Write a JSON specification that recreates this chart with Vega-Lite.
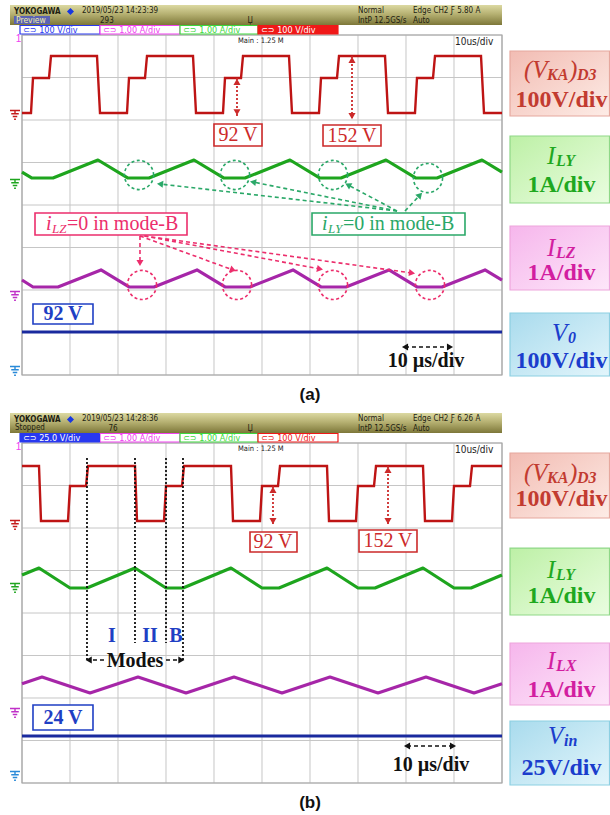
{
"$schema":"https://vega.github.io/schema/vega-lite/v6.json",
"padding":0,
"autosize":{"type":"pad"},
"spacing":0,
"config":{"view":{"stroke":null},"axis":{"disable":true},"legend":{"disable":true}},
"data":{"values":[
{"k":"hdr","p":"a","x":-2.5,"x2":100,"y":8.235,"y2":8.706},
{"k":"hdr","p":"b","x":-2.5,"x2":100,"y":8.235,"y2":8.706},
{"k":"pv","p":"a","x":-1.667,"x2":5.833,"y":8.259,"y2":8.447},
{"k":"pvt","p":"a","x":-1.25,"y":8.353,"t":"Preview"},
{"k":"hb","p":"a","x":-1.667,"y":8.553,"t":"YOKOGAWA"},
{"k":"hb","p":"b","x":-1.667,"y":8.553,"t":"YOKOGAWA"},
{"k":"dia","p":"a","x":10.1,"y":8.553},
{"k":"dia","p":"b","x":10.1,"y":8.553},
{"k":"ht","p":"a","x":12.5,"y":8.565,"t":"2019/05/23 14:23:39"},
{"k":"ht","p":"a","x":16.25,"y":8.329,"t":"293"},
{"k":"ht","p":"a","x":47,"y":8.329,"t":"Џ"},
{"k":"ht","p":"a","x":70,"y":8.565,"t":"Normal"},
{"k":"ht","p":"a","x":70,"y":8.329,"t":"IntP 12.5GS/s"},
{"k":"ht","p":"a","x":81.46,"y":8.565,"t":"Edge CH2 Ƒ 5.80 A"},
{"k":"ht","p":"a","x":81.46,"y":8.329,"t":"Auto"},
{"k":"ht","p":"b","x":-1.458,"y":8.353,"t":"Stopped"},
{"k":"ht","p":"b","x":12.5,"y":8.565,"t":"2019/05/23 14:28:36"},
{"k":"ht","p":"b","x":18.0,"y":8.329,"t":"76"},
{"k":"ht","p":"b","x":47,"y":8.329,"t":"Џ"},
{"k":"ht","p":"b","x":70,"y":8.565,"t":"Normal"},
{"k":"ht","p":"b","x":70,"y":8.329,"t":"IntP 12.5GS/s"},
{"k":"ht","p":"b","x":81.46,"y":8.565,"t":"Edge CH2 Ƒ 6.26 A"},
{"k":"ht","p":"b","x":81.46,"y":8.329,"t":"Auto"},
{"k":"tag","p":"a","x":-0.417,"x2":16.25,"c":"tb","s":0,"t":"⊂⊃ 100 V/div"},
{"k":"tag","p":"a","x":16.25,"x2":32.92,"c":"tm","s":0,"t":"⊂⊃ 1.00 A/div"},
{"k":"tag","p":"a","x":32.92,"x2":49.17,"c":"tg","s":0,"t":"⊂⊃ 1.00 A/div"},
{"k":"tag","p":"a","x":49.17,"x2":65.83,"c":"tr","s":1,"t":"⊂⊃ 100 V/div"},
{"k":"tag","p":"b","x":-0.417,"x2":16.25,"c":"tb","s":1,"t":"⊂⊃ 25.0 V/div"},
{"k":"tag","p":"b","x":16.25,"x2":32.92,"c":"tm","s":0,"t":"⊂⊃ 1.00 A/div"},
{"k":"tag","p":"b","x":32.92,"x2":49.17,"c":"tg","s":0,"t":"⊂⊃ 1.00 A/div"},
{"k":"tag","p":"b","x":49.17,"x2":65.83,"c":"tr","s":0,"t":"⊂⊃ 100 V/div"},
{"k":"sm","p":"a","x":45,"y":7.86,"t":"Main : 1.25 M"},
{"k":"sm","p":"b","x":45,"y":7.86,"t":"Main : 1.25 M"},
{"k":"sm2","p":"a","x":90.2,"y":7.84,"t":"10us/div"},
{"k":"sm2","p":"b","x":90.2,"y":7.84,"t":"10us/div"},
{"k":"one","p":"a","x":-1.3,"y":7.9,"t":"1"},
{"k":"one","p":"b","x":-1.3,"y":7.9,"t":"1"},
{"k":"gv","p":"a","x":0},{"k":"gv","p":"a","x":10},{"k":"gv","p":"a","x":20},{"k":"gv","p":"a","x":30},{"k":"gv","p":"a","x":40},{"k":"gv","p":"a","x":50},{"k":"gv","p":"a","x":60},{"k":"gv","p":"a","x":70},{"k":"gv","p":"a","x":80},{"k":"gv","p":"a","x":90},{"k":"gv","p":"a","x":100},
{"k":"gv","p":"b","x":0},{"k":"gv","p":"b","x":10},{"k":"gv","p":"b","x":20},{"k":"gv","p":"b","x":30},{"k":"gv","p":"b","x":40},{"k":"gv","p":"b","x":50},{"k":"gv","p":"b","x":60},{"k":"gv","p":"b","x":70},{"k":"gv","p":"b","x":80},{"k":"gv","p":"b","x":90},{"k":"gv","p":"b","x":100},
{"k":"gh","p":"a","y":0},{"k":"gh","p":"a","y":1},{"k":"gh","p":"a","y":2},{"k":"gh","p":"a","y":3},{"k":"gh","p":"a","y":4},{"k":"gh","p":"a","y":5},{"k":"gh","p":"a","y":6},{"k":"gh","p":"a","y":7},{"k":"gh","p":"a","y":8},
{"k":"gh","p":"b","y":0},{"k":"gh","p":"b","y":1},{"k":"gh","p":"b","y":2},{"k":"gh","p":"b","y":3},{"k":"gh","p":"b","y":4},{"k":"gh","p":"b","y":5},{"k":"gh","p":"b","y":6},{"k":"gh","p":"b","y":7},{"k":"gh","p":"b","y":8},
{"k":"gnd","p":"a","c":"r","x":-1.458,"y":6.118},
{"k":"gnd","p":"a","c":"g","x":-1.458,"y":4.494},
{"k":"gnd","p":"a","c":"mg","x":-1.458,"y":1.859},
{"k":"gnd","p":"a","c":"bg","x":-1.458,"y":0.094},
{"k":"gnd","p":"b","c":"r","x":-1.458,"y":6.071},
{"k":"gnd","p":"b","c":"g","x":-1.458,"y":4.588},
{"k":"gnd","p":"b","c":"mg","x":-1.458,"y":1.647},
{"k":"gnd","p":"b","c":"bg","x":-1.458,"y":0.165},
{"k":"tr","p":"a","c":"r","x":0,"y":6.165},{"k":"tr","p":"a","c":"r","x":1.875,"y":6.165},{"k":"tr","p":"a","c":"r","x":2.292,"y":6.988},{"k":"tr","p":"a","c":"r","x":5.625,"y":6.988},{"k":"tr","p":"a","c":"r","x":6.042,"y":7.506},{"k":"tr","p":"a","c":"r","x":15.625,"y":7.506},{"k":"tr","p":"a","c":"r","x":16.25,"y":6.165},
{"k":"tr","p":"a","c":"r","x":21.875,"y":6.165},{"k":"tr","p":"a","c":"r","x":22.292,"y":6.988},{"k":"tr","p":"a","c":"r","x":25.625,"y":6.988},{"k":"tr","p":"a","c":"r","x":26.042,"y":7.506},{"k":"tr","p":"a","c":"r","x":35.625,"y":7.506},{"k":"tr","p":"a","c":"r","x":36.25,"y":6.165},
{"k":"tr","p":"a","c":"r","x":41.875,"y":6.165},{"k":"tr","p":"a","c":"r","x":42.292,"y":6.988},{"k":"tr","p":"a","c":"r","x":45.625,"y":6.988},{"k":"tr","p":"a","c":"r","x":46.042,"y":7.506},{"k":"tr","p":"a","c":"r","x":55.625,"y":7.506},{"k":"tr","p":"a","c":"r","x":56.25,"y":6.165},
{"k":"tr","p":"a","c":"r","x":61.875,"y":6.165},{"k":"tr","p":"a","c":"r","x":62.292,"y":6.988},{"k":"tr","p":"a","c":"r","x":65.625,"y":6.988},{"k":"tr","p":"a","c":"r","x":66.042,"y":7.506},{"k":"tr","p":"a","c":"r","x":75.625,"y":7.506},{"k":"tr","p":"a","c":"r","x":76.25,"y":6.165},
{"k":"tr","p":"a","c":"r","x":81.875,"y":6.165},{"k":"tr","p":"a","c":"r","x":82.292,"y":6.988},{"k":"tr","p":"a","c":"r","x":85.625,"y":6.988},{"k":"tr","p":"a","c":"r","x":86.042,"y":7.506},{"k":"tr","p":"a","c":"r","x":95.625,"y":7.506},{"k":"tr","p":"a","c":"r","x":96.25,"y":6.165},{"k":"tr","p":"a","c":"r","x":100,"y":6.165},
{"k":"tr","p":"a","c":"g","x":0,"y":4.776},{"k":"tr","p":"a","c":"g","x":2.083,"y":4.635},{"k":"tr","p":"a","c":"g","x":6.458,"y":4.635},{"k":"tr","p":"a","c":"g","x":15.833,"y":5.059},{"k":"tr","p":"a","c":"g","x":22.083,"y":4.635},{"k":"tr","p":"a","c":"g","x":26.458,"y":4.635},{"k":"tr","p":"a","c":"g","x":35.833,"y":5.059},{"k":"tr","p":"a","c":"g","x":42.083,"y":4.635},{"k":"tr","p":"a","c":"g","x":46.458,"y":4.635},{"k":"tr","p":"a","c":"g","x":55.833,"y":5.059},{"k":"tr","p":"a","c":"g","x":62.083,"y":4.635},{"k":"tr","p":"a","c":"g","x":66.458,"y":4.635},{"k":"tr","p":"a","c":"g","x":75.833,"y":5.059},{"k":"tr","p":"a","c":"g","x":82.083,"y":4.635},{"k":"tr","p":"a","c":"g","x":86.458,"y":4.635},{"k":"tr","p":"a","c":"g","x":95.833,"y":5.059},{"k":"tr","p":"a","c":"g","x":100,"y":4.776},
{"k":"tr","p":"a","c":"m","x":0,"y":2.235},{"k":"tr","p":"a","c":"m","x":2.292,"y":2.071},{"k":"tr","p":"a","c":"m","x":7.5,"y":2.071},{"k":"tr","p":"a","c":"m","x":16.458,"y":2.471},{"k":"tr","p":"a","c":"m","x":22.292,"y":2.071},{"k":"tr","p":"a","c":"m","x":27.5,"y":2.071},{"k":"tr","p":"a","c":"m","x":36.458,"y":2.471},{"k":"tr","p":"a","c":"m","x":42.292,"y":2.071},{"k":"tr","p":"a","c":"m","x":47.5,"y":2.071},{"k":"tr","p":"a","c":"m","x":56.458,"y":2.471},{"k":"tr","p":"a","c":"m","x":62.292,"y":2.071},{"k":"tr","p":"a","c":"m","x":67.5,"y":2.071},{"k":"tr","p":"a","c":"m","x":76.458,"y":2.471},{"k":"tr","p":"a","c":"m","x":82.292,"y":2.071},{"k":"tr","p":"a","c":"m","x":87.5,"y":2.071},{"k":"tr","p":"a","c":"m","x":96.458,"y":2.471},{"k":"tr","p":"a","c":"m","x":100,"y":2.235},
{"k":"tr","p":"a","c":"b","x":0,"y":1.012},{"k":"tr","p":"a","c":"b","x":100,"y":1.012},
{"k":"tr","p":"b","c":"r","x":0,"y":7.459},{"k":"tr","p":"b","c":"r","x":3.542,"y":7.459},{"k":"tr","p":"b","c":"r","x":3.958,"y":6.165},{"k":"tr","p":"b","c":"r","x":9.583,"y":6.165},{"k":"tr","p":"b","c":"r","x":10.0,"y":6.988},{"k":"tr","p":"b","c":"r","x":13.333,"y":6.988},{"k":"tr","p":"b","c":"r","x":13.75,"y":7.459},
{"k":"tr","p":"b","c":"r","x":23.542,"y":7.459},{"k":"tr","p":"b","c":"r","x":23.958,"y":6.165},{"k":"tr","p":"b","c":"r","x":29.583,"y":6.165},{"k":"tr","p":"b","c":"r","x":30.0,"y":6.988},{"k":"tr","p":"b","c":"r","x":33.333,"y":6.988},{"k":"tr","p":"b","c":"r","x":33.75,"y":7.459},
{"k":"tr","p":"b","c":"r","x":43.542,"y":7.459},{"k":"tr","p":"b","c":"r","x":43.958,"y":6.165},{"k":"tr","p":"b","c":"r","x":49.583,"y":6.165},{"k":"tr","p":"b","c":"r","x":50.0,"y":6.988},{"k":"tr","p":"b","c":"r","x":53.333,"y":6.988},{"k":"tr","p":"b","c":"r","x":53.75,"y":7.459},
{"k":"tr","p":"b","c":"r","x":63.542,"y":7.459},{"k":"tr","p":"b","c":"r","x":63.958,"y":6.165},{"k":"tr","p":"b","c":"r","x":69.583,"y":6.165},{"k":"tr","p":"b","c":"r","x":70.0,"y":6.988},{"k":"tr","p":"b","c":"r","x":73.333,"y":6.988},{"k":"tr","p":"b","c":"r","x":73.75,"y":7.459},
{"k":"tr","p":"b","c":"r","x":83.542,"y":7.459},{"k":"tr","p":"b","c":"r","x":83.958,"y":6.165},{"k":"tr","p":"b","c":"r","x":89.583,"y":6.165},{"k":"tr","p":"b","c":"r","x":90.0,"y":6.988},{"k":"tr","p":"b","c":"r","x":93.333,"y":6.988},{"k":"tr","p":"b","c":"r","x":93.75,"y":7.459},{"k":"tr","p":"b","c":"r","x":100,"y":7.459},
{"k":"tr","p":"b","c":"g","x":0,"y":4.894},{"k":"tr","p":"b","c":"g","x":3.542,"y":5.059},{"k":"tr","p":"b","c":"g","x":10,"y":4.588},{"k":"tr","p":"b","c":"g","x":13.542,"y":4.588},{"k":"tr","p":"b","c":"g","x":23.542,"y":5.059},{"k":"tr","p":"b","c":"g","x":30,"y":4.588},{"k":"tr","p":"b","c":"g","x":33.542,"y":4.588},{"k":"tr","p":"b","c":"g","x":43.542,"y":5.059},{"k":"tr","p":"b","c":"g","x":50,"y":4.588},{"k":"tr","p":"b","c":"g","x":53.542,"y":4.588},{"k":"tr","p":"b","c":"g","x":63.542,"y":5.059},{"k":"tr","p":"b","c":"g","x":70,"y":4.588},{"k":"tr","p":"b","c":"g","x":73.542,"y":4.588},{"k":"tr","p":"b","c":"g","x":83.542,"y":5.059},{"k":"tr","p":"b","c":"g","x":90,"y":4.588},{"k":"tr","p":"b","c":"g","x":93.542,"y":4.588},{"k":"tr","p":"b","c":"g","x":100,"y":4.894},
{"k":"tr","p":"b","c":"m","x":0,"y":2.336},{"k":"tr","p":"b","c":"m","x":4.167,"y":2.494},{"k":"tr","p":"b","c":"m","x":14.167,"y":2.118},{"k":"tr","p":"b","c":"m","x":24.167,"y":2.494},{"k":"tr","p":"b","c":"m","x":34.167,"y":2.118},{"k":"tr","p":"b","c":"m","x":44.167,"y":2.494},{"k":"tr","p":"b","c":"m","x":54.167,"y":2.118},{"k":"tr","p":"b","c":"m","x":64.167,"y":2.494},{"k":"tr","p":"b","c":"m","x":74.167,"y":2.118},{"k":"tr","p":"b","c":"m","x":84.167,"y":2.494},{"k":"tr","p":"b","c":"m","x":94.167,"y":2.118},{"k":"tr","p":"b","c":"m","x":100,"y":2.336},
{"k":"tr","p":"b","c":"b","x":0,"y":1.106},{"k":"tr","p":"b","c":"b","x":100,"y":1.106},
{"k":"dot","p":"a","c":"ra","x":44.79,"y":6.988,"x2":44.79,"y2":6.094},
{"k":"dot","p":"a","c":"ra","x":68.75,"y":7.506,"x2":68.75,"y2":6.0},
{"k":"dot","p":"b","c":"ra","x":52.29,"y":6.988,"x2":52.29,"y2":6.071},
{"k":"dot","p":"b","c":"ra","x":76.25,"y":7.459,"x2":76.25,"y2":6.071},
{"k":"dot","p":"b","c":"k","x":13.54,"y":7.647,"x2":13.54,"y2":2.894},
{"k":"dot","p":"b","c":"k","x":23.54,"y":7.647,"x2":23.54,"y2":3.294},
{"k":"dot","p":"b","c":"k","x":30.0,"y":7.647,"x2":30.0,"y2":3.294},
{"k":"dot","p":"b","c":"k","x":33.54,"y":7.647,"x2":33.54,"y2":2.894},
{"k":"dash","p":"a","c":"ga","x":78.125,"y":3.859,"x2":28.75,"y2":4.494},
{"k":"dash","p":"a","c":"ga","x":78.125,"y":3.859,"x2":48.125,"y2":4.541},
{"k":"dash","p":"a","c":"ga","x":78.125,"y":3.859,"x2":67.917,"y2":4.471},
{"k":"dash","p":"a","c":"ga","x":79.79,"y":3.859,"x2":82.917,"y2":4.235},
{"k":"dash","p":"a","c":"ma","x":24.58,"y":3.271,"x2":24.58,"y2":2.635},
{"k":"dash","p":"a","c":"ma","x":24.58,"y":3.271,"x2":43.96,"y2":2.471},
{"k":"dash","p":"a","c":"ma","x":25.5,"y":3.271,"x2":62.08,"y2":2.494},
{"k":"dash","p":"a","c":"ma","x":25.5,"y":3.271,"x2":81.25,"y2":2.4},
{"k":"dash","p":"a","c":"k","x":79.79,"y":0.659,"x2":89.17,"y2":0.659},
{"k":"dash","p":"b","c":"k","x":80.21,"y":0.871,"x2":89.79,"y2":0.871},
{"k":"dash","p":"b","c":"k","x":17.08,"y":2.894,"x2":13.75,"y2":2.894},
{"k":"dash","p":"b","c":"k","x":30.0,"y":2.894,"x2":33.33,"y2":2.894},
{"k":"circ","p":"a","c":"ga","x":24.375,"y":4.706},
{"k":"circ","p":"a","c":"ga","x":44.375,"y":4.706},
{"k":"circ","p":"a","c":"ga","x":64.79,"y":4.706},
{"k":"circ","p":"a","c":"ga","x":84.58,"y":4.635},
{"k":"circ","p":"a","c":"ma","x":25,"y":2.118},
{"k":"circ","p":"a","c":"ma","x":44.79,"y":2.118},
{"k":"circ","p":"a","c":"ma","x":64.79,"y":2.118},
{"k":"circ","p":"a","c":"ma","x":85,"y":2.118},
{"k":"ah","p":"a","c":"ra","x":44.79,"y":6.898,"a":270},
{"k":"ah","p":"a","c":"ra","x":44.79,"y":6.184,"a":90},
{"k":"ah","p":"a","c":"ra","x":68.75,"y":7.416,"a":270},
{"k":"ah","p":"a","c":"ra","x":68.75,"y":6.09,"a":90},
{"k":"ah","p":"b","c":"ra","x":52.29,"y":6.898,"a":270},
{"k":"ah","p":"b","c":"ra","x":52.29,"y":6.161,"a":90},
{"k":"ah","p":"b","c":"ra","x":76.25,"y":7.369,"a":270},
{"k":"ah","p":"b","c":"ra","x":76.25,"y":6.161,"a":90},
{"k":"ah","p":"a","c":"ga","x":28.75,"y":4.494,"a":186.5},
{"k":"ah","p":"a","c":"ga","x":48.125,"y":4.541,"a":191.4},
{"k":"ah","p":"a","c":"ga","x":67.917,"y":4.471,"a":208},
{"k":"ah","p":"a","c":"ga","x":82.917,"y":4.235,"a":313},
{"k":"ah","p":"a","c":"ma","x":24.58,"y":2.635,"a":90},
{"k":"ah","p":"a","c":"ma","x":43.96,"y":2.471,"a":20.1},
{"k":"ah","p":"a","c":"ma","x":62.08,"y":2.494,"a":10.4},
{"k":"ah","p":"a","c":"ma","x":81.25,"y":2.4,"a":7.7},
{"k":"ah","p":"a","c":"k","x":79.79,"y":0.659,"a":180},
{"k":"ah","p":"a","c":"k","x":89.17,"y":0.659,"a":0},
{"k":"ah","p":"b","c":"k","x":80.21,"y":0.871,"a":180},
{"k":"ah","p":"b","c":"k","x":89.79,"y":0.871,"a":0},
{"k":"ah","p":"b","c":"k","x":13.9,"y":2.894,"a":180},
{"k":"ah","p":"b","c":"k","x":33.2,"y":2.894,"a":0},
{"k":"box","p":"a","c":"ra","x":40,"x2":50,"y":5.388,"y2":5.906},
{"k":"box","p":"a","c":"ra","x":62.71,"x2":74.79,"y":5.388,"y2":5.882},
{"k":"box","p":"a","c":"ga","x":60.42,"x2":92.29,"y":3.294,"y2":3.812},
{"k":"box","p":"a","c":"ma","x":2.708,"x2":34.375,"y":3.294,"y2":3.812},
{"k":"box","p":"a","c":"ba","x":2.29,"x2":14.79,"y":1.2,"y2":1.671},
{"k":"box","p":"b","c":"ra","x":47.5,"x2":57.29,"y":5.435,"y2":5.906},
{"k":"box","p":"b","c":"ra","x":70.21,"x2":82.29,"y":5.435,"y2":5.953},
{"k":"box","p":"b","c":"ba","x":2.29,"x2":14.79,"y":1.247,"y2":1.835},
{"k":"lt","p":"a","c":"ra","x":45,"y":5.647,"t":"92 V"},
{"k":"lt","p":"a","c":"ra","x":68.75,"y":5.635,"t":"152 V"},
{"k":"lt","p":"b","c":"ra","x":52.29,"y":5.671,"t":"92 V"},
{"k":"lt","p":"b","c":"ra","x":76.25,"y":5.694,"t":"152 V"},
{"k":"lL","p":"a","c":"ga","x":66.875,"y":3.553,"t":"=0 in mode-B"},
{"k":"lL","p":"a","c":"ma","x":9.375,"y":3.553,"t":"=0 in mode-B"},
{"k":"li","p":"a","c":"ga","x":62.5,"y":3.553,"t":"i"},
{"k":"li","p":"a","c":"ma","x":5.0,"y":3.553,"t":"i"},
{"k":"ls","p":"a","c":"ga","x":63.75,"y":3.43,"t":"LY"},
{"k":"ls","p":"a","c":"ma","x":6.25,"y":3.43,"t":"LZ"},
{"k":"lb","p":"a","c":"ba","x":8.54,"y":1.435,"t":"92 V"},
{"k":"lb","p":"a","c":"k","x":84.17,"y":0.329,"t":"10 µs/div"},
{"k":"lb","p":"b","c":"ba","x":8.54,"y":1.541,"t":"24 V"},
{"k":"lb","p":"b","c":"k","x":85.21,"y":0.424,"t":"10 µs/div"},
{"k":"lb","p":"b","c":"ba","x":18.75,"y":3.459,"t":"I"},
{"k":"lb","p":"b","c":"ba","x":26.67,"y":3.459,"t":"II"},
{"k":"lb","p":"b","c":"ba","x":32.08,"y":3.459,"t":"B"},
{"k":"lb","p":"b","c":"k","x":23.54,"y":2.871,"t":"Modes"},
{"k":"rb","p":"a","c":"rl","x":101.667,"x2":122.4,"y":6.094,"y2":7.624},
{"k":"rb","p":"a","c":"gl","x":101.667,"x2":122.4,"y":4.047,"y2":5.624},
{"k":"rb","p":"a","c":"ml","x":101.667,"x2":122.4,"y":2.0,"y2":3.506},
{"k":"rb","p":"a","c":"bl","x":101.667,"x2":122.4,"y":-0.024,"y2":1.459},
{"k":"rb","p":"b","c":"rl","x":101.667,"x2":122.4,"y":6.235,"y2":7.765},
{"k":"rb","p":"b","c":"gl","x":101.667,"x2":122.4,"y":3.953,"y2":5.529},
{"k":"rb","p":"b","c":"ml","x":101.667,"x2":122.4,"y":1.835,"y2":3.294},
{"k":"rb","p":"b","c":"bl","x":101.667,"x2":122.4,"y":-0.047,"y2":1.459},
{"k":"rI","p":"a","c":"rl","x":104.58,"y":7.176,"t":"(V"},
{"k":"rS","p":"a","c":"rl","x":109.375,"y":7.066,"t":"KA"},
{"k":"rI","p":"a","c":"rl","x":113.96,"y":7.176,"t":")"},
{"k":"rS","p":"a","c":"rl","x":115.625,"y":7.066,"t":"D3"},
{"k":"rB","p":"a","c":"rl","x":112.4,"y":6.471,"t":"100V/div"},
{"k":"rI","p":"a","c":"gl","x":109.375,"y":5.153,"t":"I"},
{"k":"rS","p":"a","c":"gl","x":111.25,"y":5.043,"t":"LY"},
{"k":"rB","p":"a","c":"gl","x":112.4,"y":4.471,"t":"1A/div"},
{"k":"rI","p":"a","c":"ml","x":109.375,"y":2.988,"t":"I"},
{"k":"rS","p":"a","c":"ml","x":111.25,"y":2.878,"t":"LZ"},
{"k":"rB","p":"a","c":"ml","x":112.4,"y":2.4,"t":"1A/div"},
{"k":"rI","p":"a","c":"bl","x":110.42,"y":0.988,"t":"V"},
{"k":"rS","p":"a","c":"bl","x":113.75,"y":0.878,"t":"0"},
{"k":"rB","p":"a","c":"bl","x":112.4,"y":0.329,"t":"100V/div"},
{"k":"rI","p":"b","c":"rl","x":104.58,"y":7.294,"t":"(V"},
{"k":"rS","p":"b","c":"rl","x":109.375,"y":7.184,"t":"KA"},
{"k":"rI","p":"b","c":"rl","x":113.96,"y":7.294,"t":")"},
{"k":"rS","p":"b","c":"rl","x":115.625,"y":7.184,"t":"D3"},
{"k":"rB","p":"b","c":"rl","x":112.4,"y":6.682,"t":"100V/div"},
{"k":"rI","p":"b","c":"gl","x":109.375,"y":5.012,"t":"I"},
{"k":"rS","p":"b","c":"gl","x":111.25,"y":4.902,"t":"LY"},
{"k":"rB","p":"b","c":"gl","x":112.4,"y":4.4,"t":"1A/div"},
{"k":"rI","p":"b","c":"ml","x":109.375,"y":2.871,"t":"I"},
{"k":"rS","p":"b","c":"ml","x":111.25,"y":2.761,"t":"LX"},
{"k":"rB","p":"b","c":"ml","x":112.4,"y":2.188,"t":"1A/div"},
{"k":"rI","p":"b","c":"bl","x":109.58,"y":1.106,"t":"V"},
{"k":"rS","p":"b","c":"bl","x":112.92,"y":0.996,"t":"in"},
{"k":"rB","p":"b","c":"bl","x":112.4,"y":0.353,"t":"25V/div"},
{"k":"pl","p":"a","x":60,"y":-0.471,"t":"(a)"},
{"k":"pl","p":"b","x":60,"y":-0.471,"t":"(b)"}
]},
"facet":{"row":{"field":"p","type":"nominal","header":null}},
"spec":{
"width":610,
"height":407.5,
"layer":[
{"transform":[{"filter":"datum.k=='hdr'"}],
 "mark":{"type":"rect","fill":{"gradient":"linear","x1":0,"y1":0,"x2":0,"y2":1,"stops":[{"offset":0,"color":"#dcd9a2"},{"offset":0.45,"color":"#b6b172"},{"offset":1,"color":"#7d7739"}]}},
 "encoding":{"x":{"field":"x","type":"quantitative","scale":{"domain":[-4.583,122.5],"nice":false,"zero":false},"axis":null},"x2":{"field":"x2"},
 "y":{"field":"y","type":"quantitative","scale":{"domain":[-0.765,8.824],"nice":false,"zero":false},"axis":null},"y2":{"field":"y2"}}},
{"transform":[{"filter":"datum.k=='gv'"}],"mark":{"type":"rule","color":"#c6c6c6","strokeWidth":1},
 "encoding":{"x":{"field":"x","type":"quantitative"},"y":{"datum":0},"y2":{"datum":8}}},
{"transform":[{"filter":"datum.k=='gh'"}],"mark":{"type":"rule","color":"#c6c6c6","strokeWidth":1},
 "encoding":{"y":{"field":"y","type":"quantitative"},"x":{"datum":0},"x2":{"datum":100}}},
{"transform":[{"filter":"datum.k=='hdr'"}],"mark":{"type":"rect","filled":false,"color":"#a6a6a6","strokeWidth":1.2},
 "encoding":{"x":{"datum":0},"x2":{"datum":100},"y":{"datum":0},"y2":{"datum":8}}},
{"transform":[{"filter":"datum.k=='pv'"}],"mark":{"type":"rect","color":"#5a62b4"},
 "encoding":{"x":{"field":"x","type":"quantitative"},"x2":{"field":"x2"},"y":{"field":"y","type":"quantitative"},"y2":{"field":"y2"}}},
{"transform":[{"filter":"datum.k=='tag'"}],"mark":{"type":"rect","fill":"white","strokeWidth":1.2},
 "encoding":{"x":{"field":"x","type":"quantitative"},"x2":{"field":"x2"},"y":{"datum":8.024},"y2":{"datum":8.224},
 "stroke":{"field":"c","type":"nominal","legend":null,"scale":{"domain":["r","g","m","b","ra","ga","ma","ba","k","rl","gl","ml","bl","mg","bg","tb","tm","tg","tr"],"range":["#c41a1a","#1ea51e","#a626a8","#1a2a9e","#cc2a2a","#2aa868","#ec2e6c","#1f3fc4","#111111","#c23b30","#1fa81f","#d21ea0","#1b3dcc","#c030c8","#2a8ad8","#2838f0","#f040f0","#3cd83c","#f01818"]}}}},
{"transform":[{"filter":"datum.k=='tag' && datum.s==1"}],"mark":{"type":"rect"},
 "encoding":{"x":{"field":"x","type":"quantitative"},"x2":{"field":"x2"},"y":{"datum":8.024},"y2":{"datum":8.224},
 "color":{"field":"c","type":"nominal","legend":null,"scale":{"domain":["r","g","m","b","ra","ga","ma","ba","k","rl","gl","ml","bl","mg","bg","tb","tm","tg","tr"],"range":["#c41a1a","#1ea51e","#a626a8","#1a2a9e","#cc2a2a","#2aa868","#ec2e6c","#1f3fc4","#111111","#c23b30","#1fa81f","#d21ea0","#1b3dcc","#c030c8","#2a8ad8","#2838f0","#f040f0","#3cd83c","#f01818"]}}}},
{"transform":[{"filter":"datum.k=='tag' && datum.s==0"}],"mark":{"type":"text","align":"left","baseline":"middle","dx":3,"font":"Liberation Sans Narrow, DejaVu Sans Condensed, Liberation Sans","fontSize":9},
 "encoding":{"x":{"field":"x","type":"quantitative"},"y":{"datum":8.124},"text":{"field":"t"},
 "color":{"field":"c","type":"nominal","legend":null,"scale":{"domain":["r","g","m","b","ra","ga","ma","ba","k","rl","gl","ml","bl","mg","bg","tb","tm","tg","tr"],"range":["#c41a1a","#1ea51e","#a626a8","#1a2a9e","#cc2a2a","#2aa868","#ec2e6c","#1f3fc4","#111111","#c23b30","#1fa81f","#d21ea0","#1b3dcc","#c030c8","#2a8ad8","#2838f0","#f040f0","#3cd83c","#f01818"]}}}},
{"transform":[{"filter":"datum.k=='tag' && datum.s==1"}],"mark":{"type":"text","align":"left","baseline":"middle","dx":3,"font":"Liberation Sans Narrow, DejaVu Sans Condensed, Liberation Sans","fontSize":9,"color":"white"},
 "encoding":{"x":{"field":"x","type":"quantitative"},"y":{"datum":8.124},"text":{"field":"t"}}},
{"transform":[{"filter":"datum.k=='ht'"}],"mark":{"type":"text","align":"left","baseline":"middle","font":"Liberation Sans Narrow, DejaVu Sans Condensed, Liberation Sans","fontSize":8,"color":"#1e1e12"},
 "encoding":{"x":{"field":"x","type":"quantitative"},"y":{"field":"y","type":"quantitative"},"text":{"field":"t"}}},
{"transform":[{"filter":"datum.k=='hb'"}],"mark":{"type":"text","align":"left","baseline":"middle","font":"Liberation Sans Narrow, DejaVu Sans Condensed, Liberation Sans","fontSize":8,"fontWeight":"bold","color":"#1e1e12"},
 "encoding":{"x":{"field":"x","type":"quantitative"},"y":{"field":"y","type":"quantitative"},"text":{"field":"t"}}},
{"transform":[{"filter":"datum.k=='pvt'"}],"mark":{"type":"text","align":"left","baseline":"middle","font":"Liberation Sans Narrow, DejaVu Sans Condensed, Liberation Sans","fontSize":8.5,"color":"#f2eea8"},
 "encoding":{"x":{"field":"x","type":"quantitative"},"y":{"field":"y","type":"quantitative"},"text":{"field":"t"}}},
{"transform":[{"filter":"datum.k=='dia'"}],"mark":{"type":"point","shape":"diamond","filled":true,"size":50,"color":"#1838e0","opacity":1},
 "encoding":{"x":{"field":"x","type":"quantitative"},"y":{"field":"y","type":"quantitative"}}},
{"transform":[{"filter":"datum.k=='one'"}],"mark":{"type":"text","align":"left","baseline":"middle","font":"Liberation Sans","fontSize":10,"color":"#f040f0"},
 "encoding":{"x":{"field":"x","type":"quantitative"},"y":{"field":"y","type":"quantitative"},"text":{"field":"t"}}},
{"transform":[{"filter":"datum.k=='sm'"}],"mark":{"type":"text","align":"left","baseline":"middle","font":"Liberation Sans Narrow, DejaVu Sans Condensed, Liberation Sans","fontSize":7.5,"color":"#222222"},
 "encoding":{"x":{"field":"x","type":"quantitative"},"y":{"field":"y","type":"quantitative"},"text":{"field":"t"}}},
{"transform":[{"filter":"datum.k=='sm2'"}],"mark":{"type":"text","align":"left","baseline":"middle","font":"Liberation Sans Narrow, DejaVu Sans Condensed, Liberation Sans","fontSize":10,"color":"#222222"},
 "encoding":{"x":{"field":"x","type":"quantitative"},"y":{"field":"y","type":"quantitative"},"text":{"field":"t"}}},
{"transform":[{"filter":"datum.k=='gnd'"}],"mark":{"type":"point","shape":"M-1,-0.9H1M0,-0.9V-0.25M-0.75,-0.25H0.75M-0.45,0.3H0.45M-0.18,0.85H0.18","filled":false,"size":100,"strokeWidth":1.4,"opacity":1},
 "encoding":{"x":{"field":"x","type":"quantitative"},"y":{"field":"y","type":"quantitative"},
 "color":{"field":"c","type":"nominal","legend":null,"scale":{"domain":["r","g","m","b","ra","ga","ma","ba","k","rl","gl","ml","bl","mg","bg","tb","tm","tg","tr"],"range":["#c41a1a","#1ea51e","#a626a8","#1a2a9e","#cc2a2a","#2aa868","#ec2e6c","#1f3fc4","#111111","#c23b30","#1fa81f","#d21ea0","#1b3dcc","#c030c8","#2a8ad8","#2838f0","#f040f0","#3cd83c","#f01818"]}}}},
{"transform":[{"filter":"datum.k=='tr' && datum.c!='r'"}],"mark":{"type":"line","strokeWidth":3.2,"strokeJoin":"round"},
 "encoding":{"x":{"field":"x","type":"quantitative"},"y":{"field":"y","type":"quantitative"},
 "color":{"field":"c","type":"nominal","legend":null,"scale":{"domain":["r","g","m","b","ra","ga","ma","ba","k","rl","gl","ml","bl","mg","bg","tb","tm","tg","tr"],"range":["#c41a1a","#1ea51e","#a626a8","#1a2a9e","#cc2a2a","#2aa868","#ec2e6c","#1f3fc4","#111111","#c23b30","#1fa81f","#d21ea0","#1b3dcc","#c030c8","#2a8ad8","#2838f0","#f040f0","#3cd83c","#f01818"]}}}},
{"transform":[{"filter":"datum.k=='tr' && datum.c=='r'"}],"mark":{"type":"line","strokeWidth":2.4,"color":"#be1414"},
 "encoding":{"x":{"field":"x","type":"quantitative"},"y":{"field":"y","type":"quantitative"}}},
{"transform":[{"filter":"datum.k=='dot'"}],"mark":{"type":"rule","strokeWidth":1.8,"strokeDash":[2,2]},
 "encoding":{"x":{"field":"x","type":"quantitative"},"y":{"field":"y","type":"quantitative"},"x2":{"field":"x2"},"y2":{"field":"y2"},
 "color":{"field":"c","type":"nominal","legend":null,"scale":{"domain":["r","g","m","b","ra","ga","ma","ba","k","rl","gl","ml","bl","mg","bg","tb","tm","tg","tr"],"range":["#c41a1a","#1ea51e","#a626a8","#1a2a9e","#cc2a2a","#2aa868","#ec2e6c","#1f3fc4","#111111","#c23b30","#1fa81f","#d21ea0","#1b3dcc","#c030c8","#2a8ad8","#2838f0","#f040f0","#3cd83c","#f01818"]}}}},
{"transform":[{"filter":"datum.k=='dash'"}],"mark":{"type":"rule","strokeWidth":1.6,"strokeDash":[4,3]},
 "encoding":{"x":{"field":"x","type":"quantitative"},"y":{"field":"y","type":"quantitative"},"x2":{"field":"x2"},"y2":{"field":"y2"},
 "color":{"field":"c","type":"nominal","legend":null,"scale":{"domain":["r","g","m","b","ra","ga","ma","ba","k","rl","gl","ml","bl","mg","bg","tb","tm","tg","tr"],"range":["#c41a1a","#1ea51e","#a626a8","#1a2a9e","#cc2a2a","#2aa868","#ec2e6c","#1f3fc4","#111111","#c23b30","#1fa81f","#d21ea0","#1b3dcc","#c030c8","#2a8ad8","#2838f0","#f040f0","#3cd83c","#f01818"]}}}},
{"transform":[{"filter":"datum.k=='circ'"}],"mark":{"type":"point","shape":"circle","filled":false,"size":850,"strokeWidth":1.6,"strokeDash":[3,2.5],"opacity":1},
 "encoding":{"x":{"field":"x","type":"quantitative"},"y":{"field":"y","type":"quantitative"},
 "color":{"field":"c","type":"nominal","legend":null,"scale":{"domain":["r","g","m","b","ra","ga","ma","ba","k","rl","gl","ml","bl","mg","bg","tb","tm","tg","tr"],"range":["#c41a1a","#1ea51e","#a626a8","#1a2a9e","#cc2a2a","#2aa868","#ec2e6c","#1f3fc4","#111111","#c23b30","#1fa81f","#d21ea0","#1b3dcc","#c030c8","#2a8ad8","#2838f0","#f040f0","#3cd83c","#f01818"]}}}},
{"transform":[{"filter":"datum.k=='ah'"}],"mark":{"type":"point","shape":"triangle-right","filled":true,"size":50,"opacity":1},
 "encoding":{"x":{"field":"x","type":"quantitative"},"y":{"field":"y","type":"quantitative"},"angle":{"field":"a","type":"quantitative","scale":null},
 "color":{"field":"c","type":"nominal","legend":null,"scale":{"domain":["r","g","m","b","ra","ga","ma","ba","k","rl","gl","ml","bl","mg","bg","tb","tm","tg","tr"],"range":["#c41a1a","#1ea51e","#a626a8","#1a2a9e","#cc2a2a","#2aa868","#ec2e6c","#1f3fc4","#111111","#c23b30","#1fa81f","#d21ea0","#1b3dcc","#c030c8","#2a8ad8","#2838f0","#f040f0","#3cd83c","#f01818"]}}}},
{"transform":[{"filter":"datum.k=='box'"}],"mark":{"type":"rect","fill":"white","strokeWidth":1.6},
 "encoding":{"x":{"field":"x","type":"quantitative"},"x2":{"field":"x2"},"y":{"field":"y","type":"quantitative"},"y2":{"field":"y2"},
 "stroke":{"field":"c","type":"nominal","legend":null,"scale":{"domain":["r","g","m","b","ra","ga","ma","ba","k","rl","gl","ml","bl","mg","bg","tb","tm","tg","tr"],"range":["#c41a1a","#1ea51e","#a626a8","#1a2a9e","#cc2a2a","#2aa868","#ec2e6c","#1f3fc4","#111111","#c23b30","#1fa81f","#d21ea0","#1b3dcc","#c030c8","#2a8ad8","#2838f0","#f040f0","#3cd83c","#f01818"]}}}},
{"transform":[{"filter":"datum.k=='lt'"}],"mark":{"type":"text","align":"center","baseline":"middle","font":"Liberation Serif","fontSize":20},
 "encoding":{"x":{"field":"x","type":"quantitative"},"y":{"field":"y","type":"quantitative"},"text":{"field":"t"},
 "color":{"field":"c","type":"nominal","legend":null,"scale":{"domain":["r","g","m","b","ra","ga","ma","ba","k","rl","gl","ml","bl","mg","bg","tb","tm","tg","tr"],"range":["#c41a1a","#1ea51e","#a626a8","#1a2a9e","#cc2a2a","#2aa868","#ec2e6c","#1f3fc4","#111111","#c23b30","#1fa81f","#d21ea0","#1b3dcc","#c030c8","#2a8ad8","#2838f0","#f040f0","#3cd83c","#f01818"]}}}},
{"transform":[{"filter":"datum.k=='lL'"}],"mark":{"type":"text","align":"left","baseline":"middle","font":"Liberation Serif","fontSize":20},
 "encoding":{"x":{"field":"x","type":"quantitative"},"y":{"field":"y","type":"quantitative"},"text":{"field":"t"},
 "color":{"field":"c","type":"nominal","legend":null,"scale":{"domain":["r","g","m","b","ra","ga","ma","ba","k","rl","gl","ml","bl","mg","bg","tb","tm","tg","tr"],"range":["#c41a1a","#1ea51e","#a626a8","#1a2a9e","#cc2a2a","#2aa868","#ec2e6c","#1f3fc4","#111111","#c23b30","#1fa81f","#d21ea0","#1b3dcc","#c030c8","#2a8ad8","#2838f0","#f040f0","#3cd83c","#f01818"]}}}},
{"transform":[{"filter":"datum.k=='li'"}],"mark":{"type":"text","align":"left","baseline":"middle","font":"Liberation Serif","fontSize":20,"fontStyle":"italic"},
 "encoding":{"x":{"field":"x","type":"quantitative"},"y":{"field":"y","type":"quantitative"},"text":{"field":"t"},
 "color":{"field":"c","type":"nominal","legend":null,"scale":{"domain":["r","g","m","b","ra","ga","ma","ba","k","rl","gl","ml","bl","mg","bg","tb","tm","tg","tr"],"range":["#c41a1a","#1ea51e","#a626a8","#1a2a9e","#cc2a2a","#2aa868","#ec2e6c","#1f3fc4","#111111","#c23b30","#1fa81f","#d21ea0","#1b3dcc","#c030c8","#2a8ad8","#2838f0","#f040f0","#3cd83c","#f01818"]}}}},
{"transform":[{"filter":"datum.k=='ls'"}],"mark":{"type":"text","align":"left","baseline":"middle","font":"Liberation Serif","fontSize":13,"fontStyle":"italic"},
 "encoding":{"x":{"field":"x","type":"quantitative"},"y":{"field":"y","type":"quantitative"},"text":{"field":"t"},
 "color":{"field":"c","type":"nominal","legend":null,"scale":{"domain":["r","g","m","b","ra","ga","ma","ba","k","rl","gl","ml","bl","mg","bg","tb","tm","tg","tr"],"range":["#c41a1a","#1ea51e","#a626a8","#1a2a9e","#cc2a2a","#2aa868","#ec2e6c","#1f3fc4","#111111","#c23b30","#1fa81f","#d21ea0","#1b3dcc","#c030c8","#2a8ad8","#2838f0","#f040f0","#3cd83c","#f01818"]}}}},
{"transform":[{"filter":"datum.k=='lb'"}],"mark":{"type":"text","align":"center","baseline":"middle","font":"Liberation Serif","fontSize":20,"fontWeight":"bold"},
 "encoding":{"x":{"field":"x","type":"quantitative"},"y":{"field":"y","type":"quantitative"},"text":{"field":"t"},
 "color":{"field":"c","type":"nominal","legend":null,"scale":{"domain":["r","g","m","b","ra","ga","ma","ba","k","rl","gl","ml","bl","mg","bg","tb","tm","tg","tr"],"range":["#c41a1a","#1ea51e","#a626a8","#1a2a9e","#cc2a2a","#2aa868","#ec2e6c","#1f3fc4","#111111","#c23b30","#1fa81f","#d21ea0","#1b3dcc","#c030c8","#2a8ad8","#2838f0","#f040f0","#3cd83c","#f01818"]}}}},
{"transform":[{"filter":"datum.k=='rb' && datum.c=='rl'"}],"mark":{"type":"rect","stroke":"#e6a89e","strokeWidth":1.2,"fill":{"gradient":"linear","x1":0,"y1":0,"x2":1,"y2":1,"stops":[{"offset":0,"color":"#f2bcb3"},{"offset":1,"color":"#fdece6"}]}},
 "encoding":{"x":{"field":"x","type":"quantitative"},"x2":{"field":"x2"},"y":{"field":"y","type":"quantitative"},"y2":{"field":"y2"}}},
{"transform":[{"filter":"datum.k=='rb' && datum.c=='gl'"}],"mark":{"type":"rect","stroke":"#8fd888","strokeWidth":1.2,"fill":{"gradient":"linear","x1":0,"y1":0,"x2":1,"y2":1,"stops":[{"offset":0,"color":"#bdf0a6"},{"offset":1,"color":"#eafde0"}]}},
 "encoding":{"x":{"field":"x","type":"quantitative"},"x2":{"field":"x2"},"y":{"field":"y","type":"quantitative"},"y2":{"field":"y2"}}},
{"transform":[{"filter":"datum.k=='rb' && datum.c=='ml'"}],"mark":{"type":"rect","stroke":"#eea6dc","strokeWidth":1.2,"fill":{"gradient":"linear","x1":0,"y1":0,"x2":1,"y2":1,"stops":[{"offset":0,"color":"#f6b6ec"},{"offset":1,"color":"#fde6f9"}]}},
 "encoding":{"x":{"field":"x","type":"quantitative"},"x2":{"field":"x2"},"y":{"field":"y","type":"quantitative"},"y2":{"field":"y2"}}},
{"transform":[{"filter":"datum.k=='rb' && datum.c=='bl'"}],"mark":{"type":"rect","stroke":"#8ccfe2","strokeWidth":1.2,"fill":{"gradient":"linear","x1":0,"y1":0,"x2":1,"y2":1,"stops":[{"offset":0,"color":"#a9dbed"},{"offset":1,"color":"#e2f5fb"}]}},
 "encoding":{"x":{"field":"x","type":"quantitative"},"x2":{"field":"x2"},"y":{"field":"y","type":"quantitative"},"y2":{"field":"y2"}}},
{"transform":[{"filter":"datum.k=='rI'"}],"mark":{"type":"text","align":"left","baseline":"middle","font":"Liberation Serif","fontSize":25,"fontStyle":"italic"},
 "encoding":{"x":{"field":"x","type":"quantitative"},"y":{"field":"y","type":"quantitative"},"text":{"field":"t"},
 "color":{"field":"c","type":"nominal","legend":null,"scale":{"domain":["r","g","m","b","ra","ga","ma","ba","k","rl","gl","ml","bl","mg","bg","tb","tm","tg","tr"],"range":["#c41a1a","#1ea51e","#a626a8","#1a2a9e","#cc2a2a","#2aa868","#ec2e6c","#1f3fc4","#111111","#c23b30","#1fa81f","#d21ea0","#1b3dcc","#c030c8","#2a8ad8","#2838f0","#f040f0","#3cd83c","#f01818"]}}}},
{"transform":[{"filter":"datum.k=='rS'"}],"mark":{"type":"text","align":"left","baseline":"middle","font":"Liberation Serif","fontSize":16,"fontStyle":"italic","fontWeight":"bold"},
 "encoding":{"x":{"field":"x","type":"quantitative"},"y":{"field":"y","type":"quantitative"},"text":{"field":"t"},
 "color":{"field":"c","type":"nominal","legend":null,"scale":{"domain":["r","g","m","b","ra","ga","ma","ba","k","rl","gl","ml","bl","mg","bg","tb","tm","tg","tr"],"range":["#c41a1a","#1ea51e","#a626a8","#1a2a9e","#cc2a2a","#2aa868","#ec2e6c","#1f3fc4","#111111","#c23b30","#1fa81f","#d21ea0","#1b3dcc","#c030c8","#2a8ad8","#2838f0","#f040f0","#3cd83c","#f01818"]}}}},
{"transform":[{"filter":"datum.k=='rB'"}],"mark":{"type":"text","align":"center","baseline":"middle","font":"Liberation Serif","fontSize":24,"fontWeight":"bold"},
 "encoding":{"x":{"field":"x","type":"quantitative"},"y":{"field":"y","type":"quantitative"},"text":{"field":"t"},
 "color":{"field":"c","type":"nominal","legend":null,"scale":{"domain":["r","g","m","b","ra","ga","ma","ba","k","rl","gl","ml","bl","mg","bg","tb","tm","tg","tr"],"range":["#c41a1a","#1ea51e","#a626a8","#1a2a9e","#cc2a2a","#2aa868","#ec2e6c","#1f3fc4","#111111","#c23b30","#1fa81f","#d21ea0","#1b3dcc","#c030c8","#2a8ad8","#2838f0","#f040f0","#3cd83c","#f01818"]}}}},
{"transform":[{"filter":"datum.k=='pl'"}],"mark":{"type":"text","align":"center","baseline":"middle","font":"Liberation Sans","fontSize":17,"fontWeight":"bold","color":"#111111"},
 "encoding":{"x":{"field":"x","type":"quantitative"},"y":{"field":"y","type":"quantitative"},"text":{"field":"t"}}}
]}
}
